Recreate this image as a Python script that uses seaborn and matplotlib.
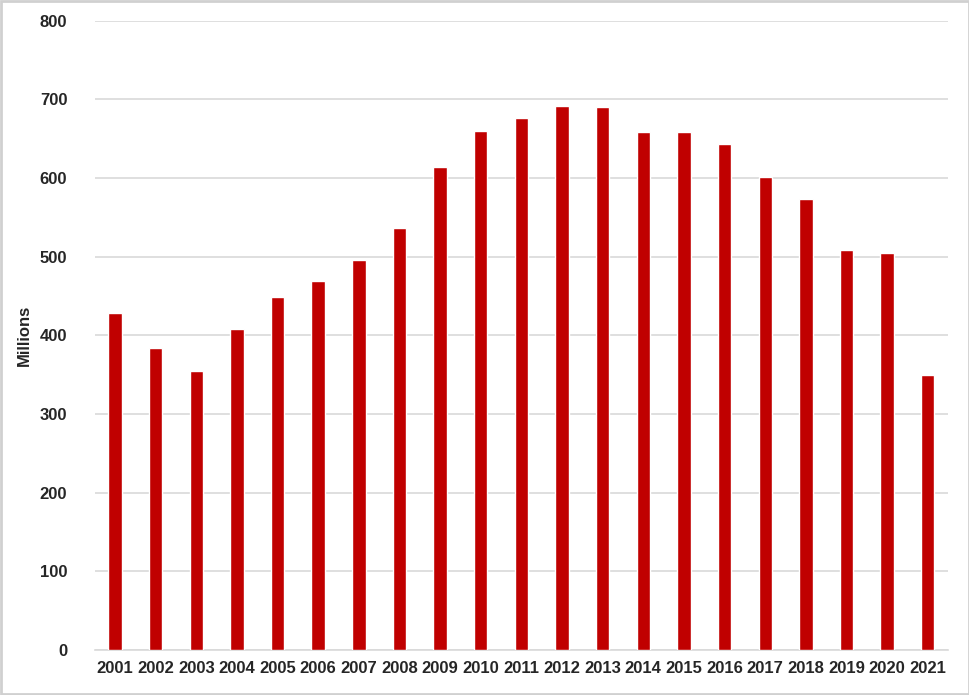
import pandas as pd
import matplotlib
matplotlib.use('Agg')
import matplotlib.pyplot as plt
import seaborn as sns

# Data
years = [str(y) for y in range(2001, 2022)]
values = [428, 384, 355, 408, 449, 469, 496, 537, 614, 660, 676,
          692, 691, 659, 659, 644, 601, 573, 509, 505, 350]
yticks = [0, 100, 200, 300, 400, 500, 600, 700, 800]

df = pd.DataFrame({'year': years, 'value': values})

sns.set_theme(style='white')
plt.rcParams['font.family'] = ['Liberation Sans Narrow', 'Liberation Sans', 'DejaVu Sans']

fig = plt.figure(figsize=(9.7, 6.95), dpi=100)
ax = fig.add_axes([0.098, 0.065, 0.879, 0.905])

sns.barplot(data=df, x='year', y='value', color='#C00000', width=0.33,
            saturation=1, ax=ax, zorder=3)

ax.set_ylim(0, 800)
ax.set_yticks(yticks)
ax.set_xlim(-0.49, len(years) - 0.51)
ax.yaxis.grid(True, color='#D9D9D9', linewidth=1.2, zorder=0)
ax.set_axisbelow(True)
for s in ['top', 'right', 'left']:
    ax.spines[s].set_visible(False)
ax.spines['bottom'].set_color('#D9D9D9')
ax.spines['bottom'].set_linewidth(1.2)

ax.set_xlabel('')
ax.set_ylabel('Millions', fontsize=12, fontweight='bold', labelpad=6)
ax.tick_params(axis='both', length=0, labelsize=12)
ax.tick_params(axis='y', pad=20)
ax.tick_params(axis='x', pad=8)
for lab in ax.get_xticklabels() + ax.get_yticklabels():
    lab.set_fontweight('bold')

# thin grey frame around the figure
fig.patches.append(plt.Rectangle((0.001, 0.001), 0.998, 0.997, transform=fig.transFigure,
                                 fill=False, edgecolor='#D0D0D0', linewidth=2))

fig.savefig('out.png', dpi=100)
